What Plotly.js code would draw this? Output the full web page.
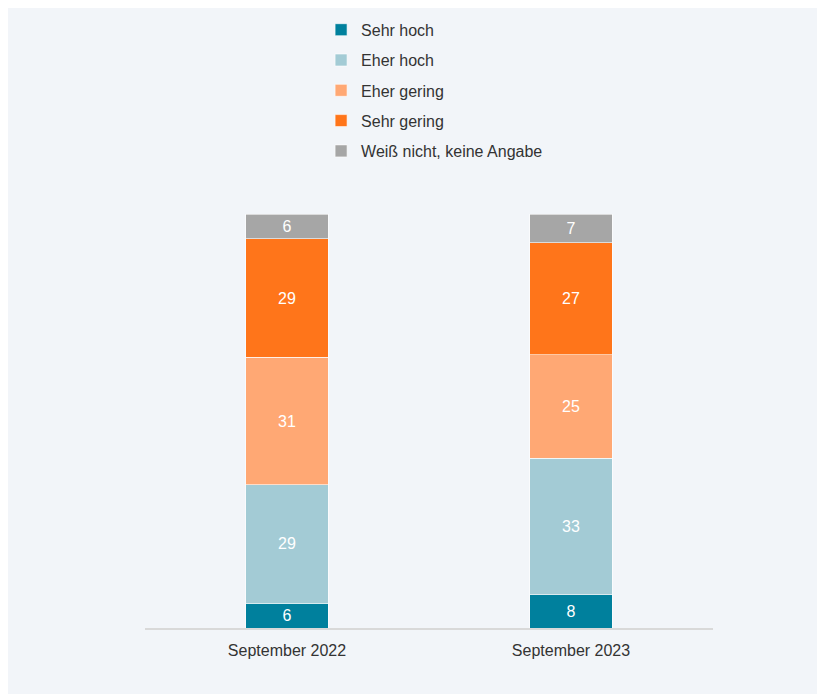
<!DOCTYPE html>
<html><head><meta charset="utf-8">
<script src="https://cdn.plot.ly/plotly-3.0.1.min.js"></script>
<style>html,body{margin:0;padding:0;overflow:hidden;background:#fff}#c{position:absolute;left:8px;top:8px;width:809px;height:686px}</style>
</head><body><div id="c"></div>
<script>
const categories = ["September 2022", "September 2023"];
const seriesNames = ["Sehr hoch", "Eher hoch", "Eher gering", "Sehr gering", "Weiß nicht, keine Angabe"];
const sehrHoch = [6, 8];
const eherHoch = [29, 33];
const eherGering = [31, 25];
const sehrGering = [29, 27];
const weissNicht = [6, 7];
const colors = ["#00809d", "#a3cbd5", "#ffa874", "#ff751a", "#a6a6a6"];

const values = [sehrHoch, eherHoch, eherGering, sehrGering, weissNicht];
const traces = values.map((v, i) => ({
  type: "bar",
  name: seriesNames[i],
  x: categories,
  y: v,
  text: v.map(String),
  texttemplate: "%{text}",
  textposition: "inside",
  insidetextanchor: "middle",
  textfont: {color: "#ffffff", size: 16, family: "Liberation Sans, Arial, sans-serif"},
  marker: {color: colors[i], line: {color: "#ffffff", width: 0.6}},
  width: 0.29,
  legendgroup: "g" + i,
  hoverinfo: "skip"
}));

const layout = {
  barmode: "stack",
  barnorm: "percent",
  paper_bgcolor: "#f2f5f9",
  plot_bgcolor: "#f2f5f9",
  margin: {l: 137, r: 104, t: 206, b: 66},
  font: {family: "Liberation Sans, Arial, sans-serif", color: "#333333", size: 16},
  showlegend: true,
  legend: {
    orientation: "v",
    x: 0.31, xanchor: "left",
    y: 0.993, yanchor: "top",
    yref: "container",
    traceorder: "grouped",
    tracegroupgap: 6.5,
    font: {size: 16, color: "#333333"},
    bgcolor: "rgba(0,0,0,0)"
  },
  xaxis: {
    showline: true, linecolor: "#d9d9d9", linewidth: 1.5,
    ticks: "", showgrid: false, zeroline: false,
    ticklabelstandoff: 7,
    tickfont: {size: 16, color: "#333333"}
  },
  yaxis: {
    range: [0, 100], showgrid: false, zeroline: false,
    showticklabels: false, ticks: "", showline: false
  }
};
Plotly.newPlot("c", traces, layout, {displayModeBar: false, staticPlot: true});
</script></body></html>
